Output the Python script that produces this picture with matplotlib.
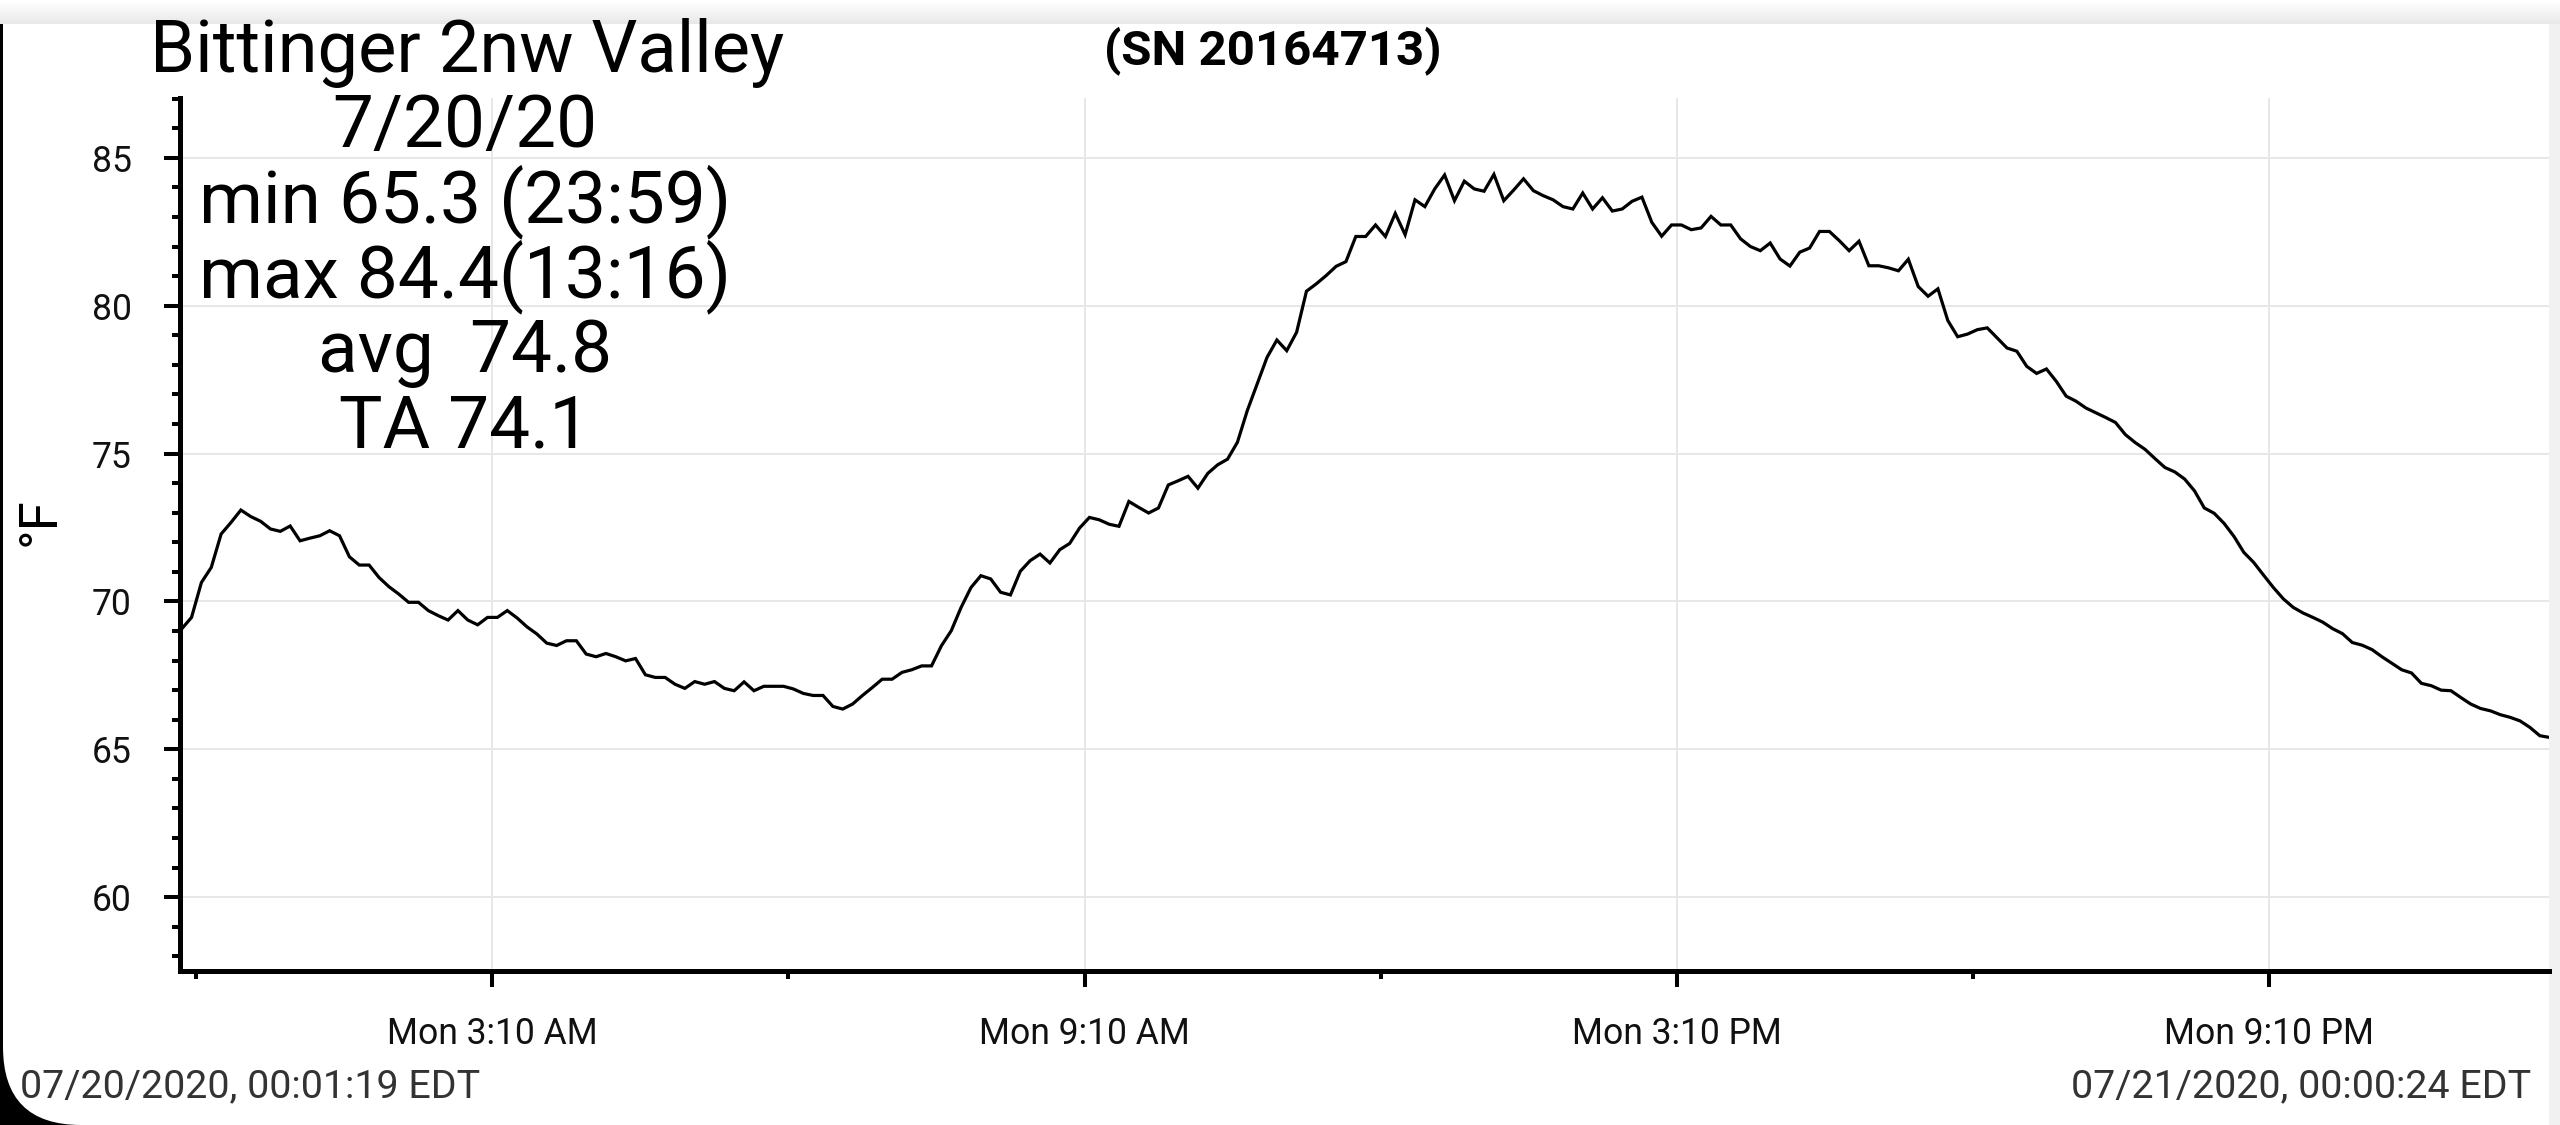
import matplotlib
matplotlib.use('Agg')
import matplotlib.pyplot as plt
import matplotlib.dates as mdates
import matplotlib.ticker as mticker
from matplotlib.patches import FancyBboxPatch, Rectangle
from matplotlib.transforms import IdentityTransform
import numpy as np
import pandas as pd

# ---------------- data ----------------
title = "Bittinger 2nw Valley"
serial = "(SN 20164713)"
stats_lines = ["7/20/20", "min 65.3 (23:59)", "max 84.4(13:16)", "avg  74.8", "TA 74.1"]
start_label = "07/20/2020, 00:01:19 EDT"
end_label = "07/21/2020, 00:00:24 EDT"
y_label = "°F"

start_time = "2020-07-20 00:01:19"
end_time = "2020-07-21 00:00:24"
view_start = "2020-07-20 00:00:00"
view_end = "2020-07-21 00:00:00"

temps_f = [
    69.07, 69.46, 70.64, 71.15, 72.28, 72.67, 73.09, 72.87, 72.71, 72.45,
    72.37, 72.55, 72.05, 72.14, 72.22, 72.39, 72.22, 71.51, 71.23, 71.23,
    70.81, 70.50, 70.25, 69.97, 69.97, 69.69, 69.52, 69.37, 69.69, 69.37,
    69.21, 69.46, 69.46, 69.69, 69.44, 69.14, 68.90, 68.59, 68.51, 68.67,
    68.67, 68.22, 68.13, 68.24, 68.13, 67.99, 68.07, 67.52, 67.43, 67.43,
    67.20, 67.06, 67.29, 67.20, 67.29, 67.06, 66.98, 67.28, 66.98, 67.13,
    67.13, 67.13, 67.04, 66.89, 66.82, 66.82, 66.45, 66.36, 66.53, 66.82,
    67.09, 67.37, 67.37, 67.60, 67.69, 67.82, 67.82, 68.50, 69.01, 69.80,
    70.47,
    70.87, 70.76, 70.31, 70.22, 71.02, 71.38, 71.60, 71.30, 71.75, 71.96,
    72.48, 72.84, 72.76, 72.61, 72.54, 73.38, 73.18, 72.99, 73.16, 73.94,
    74.08, 74.23, 73.83, 74.33, 74.62, 74.81, 75.38, 76.45, 77.35, 78.25,
    78.84, 78.48, 79.10, 80.49, 80.74, 81.02, 81.33, 81.49,
    82.34, 82.34, 82.73, 82.34, 83.12, 82.40, 83.58, 83.35, 83.95, 84.42,
    83.55, 84.21, 83.95, 83.87, 84.44, 83.55, 83.91, 84.29, 83.89, 83.72,
    83.58, 83.35, 83.27, 83.81, 83.27, 83.65, 83.20, 83.27, 83.53, 83.67,
    82.82, 82.35, 82.73, 82.73, 82.57, 82.63, 83.02, 82.73, 82.73, 82.26,
    82.00,
    81.86, 82.12, 81.58, 81.34, 81.81, 81.95, 82.51, 82.51, 82.20, 81.86,
    82.18, 81.35, 81.35, 81.28, 81.18, 81.57, 80.65, 80.32, 80.57, 79.50,
    78.95, 79.04, 79.19, 79.25, 78.91, 78.57, 78.46, 77.95, 77.71, 77.86,
    77.44, 76.94, 76.77, 76.54, 76.38, 76.22, 76.05, 75.64, 75.37,
    75.14, 74.83, 74.53, 74.38, 74.14, 73.74, 73.16, 72.98, 72.64, 72.20,
    71.66, 71.32, 70.89, 70.47, 70.09, 69.80, 69.61, 69.46, 69.30, 69.08,
    68.91, 68.61, 68.52, 68.37, 68.13, 67.91, 67.69, 67.58, 67.23, 67.15,
    67.00, 66.98, 66.75, 66.53, 66.38, 66.30, 66.17, 66.08, 65.96, 65.74,
    65.46, 65.40,
]

major_tick_times = ["2020-07-20 03:10", "2020-07-20 09:10", "2020-07-20 15:10", "2020-07-20 21:10"]
major_tick_labels = ["Mon 3:10 AM", "Mon 9:10 AM", "Mon 3:10 PM", "Mon 9:10 PM"]
minor_tick_times = ["2020-07-20 00:10", "2020-07-20 06:10", "2020-07-20 12:10", "2020-07-20 18:10"]
y_ticks = [60, 65, 70, 75, 80, 85]
y_range = (57.52, 87.04)

# ---------------- figure ----------------
plt.rcParams['font.family'] = ['Roboto', 'DejaVu Sans']
W, H = 2560, 1125
fig = plt.figure(figsize=(W / 100, H / 100), dpi=100)
fig.patch.set_facecolor('black')

# white screen with rounded lower-left corner (screenshot frame)
screen = FancyBboxPatch((3, 0), W + 200, H + 200,
                        boxstyle="round,pad=0,rounding_size=78",
                        transform=IdentityTransform(), facecolor='white',
                        edgecolor='none', zorder=-2)
fig.patches.append(screen)
# light strip on the right edge
fig.patches.append(Rectangle((W - 11, 0), 11, H, transform=IdentityTransform(),
                             facecolor='#f1f1f1', edgecolor='none', zorder=-1))
# faint gradient at the top
grad_h = 24
g = np.linspace(0.91, 1.0, grad_h)[::-1]
grad = np.repeat(g[:, None], W, axis=1)
grad = np.dstack([grad, grad, grad])
fig.figimage(grad, xo=0, yo=H - grad_h, zorder=0, origin='upper')

ax = fig.add_axes([179.5 / W, 1 - 970.5 / H, (2549 - 179.5) / W, (970.5 - 97.5) / H])
ax.set_facecolor('none')

times = pd.date_range(start_time, end_time, periods=len(temps_f))
xnum = mdates.date2num(times.to_pydatetime())
ax.plot(xnum, temps_f, color='black', lw=2.3, solid_joinstyle='miter', zorder=3)

ax.set_xlim(mdates.date2num(pd.Timestamp(view_start).to_pydatetime()),
            mdates.date2num(pd.Timestamp(view_end).to_pydatetime()))
ax.set_ylim(*y_range)

maj = [mdates.date2num(pd.Timestamp(t).to_pydatetime()) for t in major_tick_times]
mnr = [mdates.date2num(pd.Timestamp(t).to_pydatetime()) for t in minor_tick_times]
ax.xaxis.set_major_locator(mticker.FixedLocator(maj))
ax.xaxis.set_major_formatter(mticker.FixedFormatter(major_tick_labels))
ax.xaxis.set_minor_locator(mticker.FixedLocator(mnr))
ax.yaxis.set_major_locator(mticker.FixedLocator(y_ticks))
ax.yaxis.set_minor_locator(mticker.MultipleLocator(1))

for s in ['top', 'right']:
    ax.spines[s].set_visible(False)
for s in ['left', 'bottom']:
    ax.spines[s].set_linewidth(3.6)
    ax.spines[s].set_color('black')

ax.grid(which='major', color='#e7e7e7', lw=1.4, zorder=0)
ax.tick_params(which='major', direction='out', length=11.5, width=2.9, color='black',
               labelsize=25.6, labelcolor='#111111')
ax.tick_params(which='minor', direction='out', length=5.8, width=2.9, color='black')
ax.tick_params(axis='x', which='major', pad=21)
ax.tick_params(axis='y', which='major', pad=23)

# texts
fig.text(467 / W, 1 - 72 / H, title, ha='center', va='baseline', fontsize=52, color='black')
fig.text(1273 / W, 1 - 64.6 / H, serial, ha='center', va='baseline', fontsize=35.5,
         fontweight='bold', color='black')
baselines = [147, 222, 297, 372, 447]
for line, b in zip(stats_lines, baselines):
    fig.text(465 / W, 1 - b / H, line, ha='center', va='baseline', fontsize=52.5, color='black')
fig.text(40 / W, 1 - 522 / H, y_label, rotation=90, ha='center', va='center', fontsize=38)
fig.text(20 / W, 1 - 1097 / H, start_label, ha='left', va='baseline', fontsize=28.4, color='#333333')
fig.text(2531 / W, 1 - 1097 / H, end_label, ha='right', va='baseline', fontsize=28.4, color='#333333')

fig.savefig('out.png', dpi=100, facecolor=fig.get_facecolor())
